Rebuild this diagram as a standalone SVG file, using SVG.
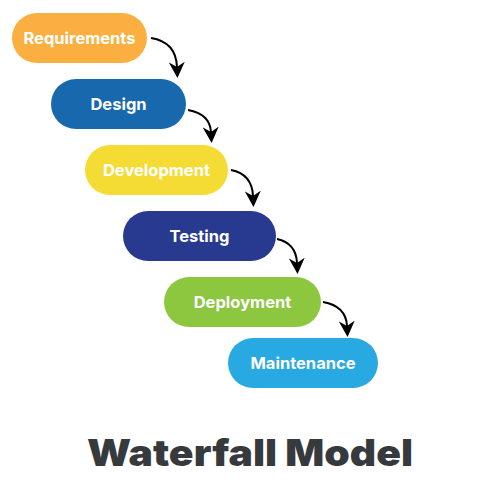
<svg xmlns="http://www.w3.org/2000/svg" width="500" height="485" viewBox="0 0 500 485">
<style>
.lbl{font-family:Inter,"Noto Sans","Liberation Sans",sans-serif;font-weight:700;font-size:16.5px;fill:#fff;text-anchor:middle;dominant-baseline:central}
.con{fill:none;stroke:#000;stroke-width:2;marker-end:url(#ah)}
.title{font-family:Inter,"Noto Sans","Liberation Sans",sans-serif;font-weight:900;font-size:37px;fill:#373a3c;text-anchor:middle}
</style>
<defs>
<marker id="ah" viewBox="0 0 16 16" refX="5" refY="8" markerWidth="16" markerHeight="16" markerUnits="userSpaceOnUse" orient="auto">
<path d="M0,0 L16,8 L0,16 L5,8 Z" fill="#000"/>
</marker>
</defs>
<rect width="500" height="485" fill="#fff"/>
<g id="connectors">
<path class="con" d="M151,38 Q176,42 177,67"/>
<path class="con" d="M188,110 Q210,114 211,132"/>
<path class="con" d="M231,170 Q252,174 253,196"/>
<path class="con" d="M277,239 Q296,243 297,263"/>
<path class="con" d="M323,302 Q346,306 347,326"/>
</g>
<g id="requirements"><rect x="12" y="13" width="135" height="50" rx="25" fill="#FBAF41"/><text class="lbl" x="79.5" y="38">Requirements</text></g>
<g id="design"><rect x="51" y="79" width="135" height="50" rx="25" fill="#1768AC"/><text class="lbl" x="118.5" y="104">Design</text></g>
<g id="development"><rect x="85" y="145" width="143" height="50" rx="25" fill="#F5DC35"/><text class="lbl" x="156.5" y="170">Development</text></g>
<g id="testing"><rect x="123" y="211" width="153" height="50" rx="25" fill="#283A90"/><text class="lbl" x="199.5" y="236">Testing</text></g>
<g id="deployment"><rect x="164" y="277" width="157" height="50" rx="25" fill="#8DC63F"/><text class="lbl" x="242.5" y="302">Deployment</text></g>
<g id="maintenance"><rect x="228" y="338" width="150" height="50" rx="25" fill="#29A9E1"/><text class="lbl" x="303" y="363">Maintenance</text></g>
<text class="title" x="250" y="466" textLength="326" lengthAdjust="spacingAndGlyphs">Waterfall Model</text>
</svg>
